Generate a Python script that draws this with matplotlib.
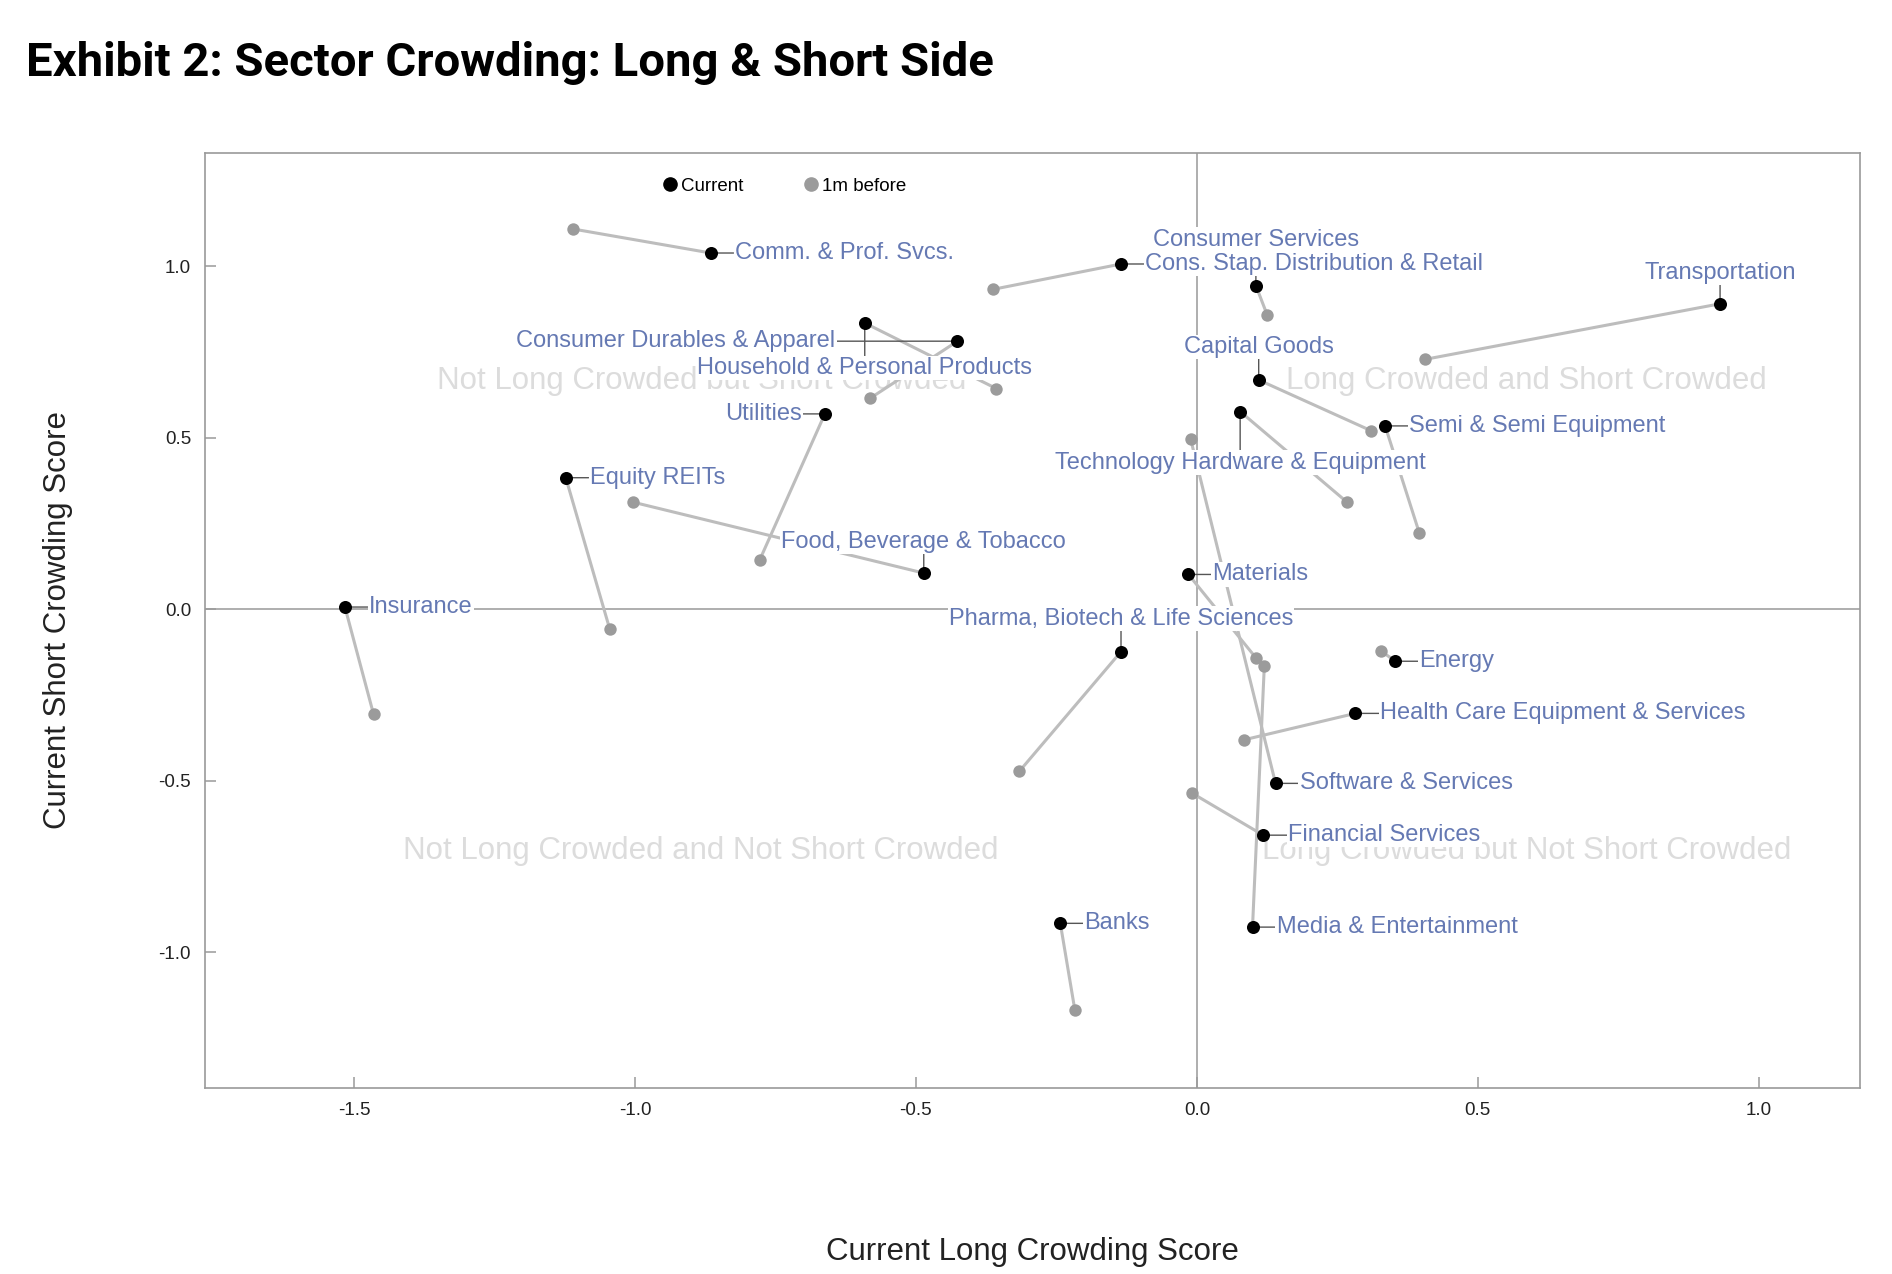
import matplotlib
matplotlib.use("Agg")
import matplotlib.pyplot as plt
from matplotlib.lines import Line2D

# ---------------- data ----------------
sectors = [
    "Comm. & Prof. Svcs.", "Consumer Services", "Cons. Stap. Distribution & Retail",
    "Transportation", "Consumer Durables & Apparel", "Household & Personal Products",
    "Utilities", "Equity REITs", "Food, Beverage & Tobacco", "Insurance",
    "Capital Goods", "Semi & Semi Equipment", "Technology Hardware & Equipment",
    "Materials", "Pharma, Biotech & Life Sciences", "Energy",
    "Health Care Equipment & Services", "Software & Services", "Financial Services",
    "Media & Entertainment", "Banks",
]
current_long = [-0.865, 0.105, -0.135, 0.931, -0.426, -0.591, -0.662, -1.123, -0.486, -1.516,
                0.110, 0.335, 0.077, -0.015, -0.135, 0.353, 0.282, 0.140, 0.118, 0.099, -0.243]
current_short = [1.039, 0.944, 1.007, 0.891, 0.782, 0.835, 0.570, 0.384, 0.106, 0.007,
                 0.669, 0.535, 0.577, 0.102, -0.123, -0.151, -0.303, -0.507, -0.658, -0.926, -0.915]
before_long = [-1.110, 0.125, -0.363, 0.406, -0.581, -0.357, -0.778, -1.045, -1.004, -1.465,
               0.310, 0.396, 0.267, 0.105, -0.316, 0.327, 0.084, -0.011, -0.009, 0.120, -0.217]
before_short = [1.109, 0.859, 0.933, 0.729, 0.616, 0.644, 0.144, -0.056, 0.313, -0.306,
                0.521, 0.222, 0.313, -0.141, -0.472, -0.120, -0.380, 0.496, -0.535, -0.165, -1.169]

x_ticks = [-1.5, -1.0, -0.5, 0.0, 0.5, 1.0]
y_ticks = [-1.0, -0.5, 0.0, 0.5, 1.0]
quadrant_texts = ["Not Long Crowded but Short Crowded", "Long Crowded and Short Crowded",
                  "Not Long Crowded and Not Short Crowded", "Long Crowded but Not Short Crowded"]

# ---------------- layout / style ----------------
# label placement: (dx, dy) in pixels, horizontal alignment
label_layout = [
    (24, 0, "left"), (0, 46, "center"), (24, 0, "left"), (0, 31, "center"),
    (-122, 0, "right"), (0, -45, "center"), (-23, 0, "right"), (24, 0, "left"),
    (0, 31, "center"), (24, 0, "left"), (0, 33, "center"), (24, 0, "left"),
    (0, -51, "center"), (24, 0, "left"), (0, 33, "center"), (24, 0, "left"),
    (25, 0, "left"), (24, 0, "left"), (25, 0, "left"), (24, 0, "left"), (24, 0, "left"),
]
quadrant_pos = [(-0.882, 0.665), (0.587, 0.665), (-0.882, -0.704), (0.587, -0.704)]

plt.rcParams["font.family"] = ["Liberation Sans", "DejaVu Sans"]

W, H, DPI = 1892, 1274, 100
fig = plt.figure(figsize=(W / DPI, H / DPI), dpi=DPI)
ax = fig.add_axes([205 / W, 1 - 1088 / H, (1860 - 205) / W, (1088 - 152.5) / H])

ax.set_xlim(-1.765, 1.18)
ax.set_ylim(-1.395, 1.332)

# zero reference lines
ax.axhline(0, color="#a8a8a8", lw=1.3, zorder=0.5)
ax.axvline(0, color="#a8a8a8", lw=1.3, zorder=0.5)

# quadrant captions
for (qx, qy), qt in zip(quadrant_pos, quadrant_texts):
    ax.text(qx, qy, qt, ha="center", va="center", fontsize=22.5, color="#dcdcdc", zorder=1)

# connecting segments
for i in range(len(sectors)):
    ax.plot([current_long[i], before_long[i]], [current_short[i], before_short[i]],
            color="#bdbdbd", lw=2.2, zorder=2, solid_capstyle="round")

# labels
for i, name in enumerate(sectors):
    dx, dy, ha = label_layout[i]
    ax.annotate(name, xy=(current_long[i], current_short[i]), xytext=(dx, dy),
                textcoords="offset pixels", ha=ha, va="center", fontsize=17,
                color="#6579b3", zorder=3,
                bbox=dict(boxstyle="square,pad=0.05", fc="white", ec="none"),
                arrowprops=dict(arrowstyle="-", color="#555555", lw=1.0,
                                shrinkA=0, shrinkB=0))

# points
ax.scatter(before_long, before_short, s=80, color="#9b9b9b", zorder=4, linewidths=0)
ax.scatter(current_long, current_short, s=88, color="black", zorder=5, linewidths=0)

# axes styling
for sp in ax.spines.values():
    sp.set_color("#9a9a9a")
    sp.set_linewidth(1.2)
ax.set_xticks(x_ticks)
ax.set_yticks(y_ticks)
ax.set_xticklabels([f"{t:.1f}" for t in x_ticks])
ax.set_yticklabels([f"{t:.1f}" for t in y_ticks])
ax.tick_params(direction="in", length=8, width=1.1, color="#9a9a9a",
               labelsize=13.5, labelcolor="#222222", pad=10)

ax.set_xlabel("Current Long Crowding Score", fontsize=22.5, color="#222222", va="center")
ax.xaxis.set_label_coords(0.5, -0.1753)
ax.set_ylabel("Current Short Crowding Score", fontsize=22.5, color="#222222", va="center")
ax.yaxis.set_label_coords(-0.0888, 0.5)

# legend
handles = [Line2D([], [], marker="o", ls="none", color="black", markersize=9.5),
           Line2D([], [], marker="o", ls="none", color="#9b9b9b", markersize=9.5)]
ax.legend(handles, ["Current", "1m before"], loc="center", bbox_to_anchor=(0.35, 0.964),
          ncol=2, frameon=False, fontsize=13.5, handletextpad=0.2, columnspacing=3.2,
          handlelength=0.8)

fig.text(26 / W, 1 - 63 / H, "Exhibit 2: Sector Crowding: Long & Short Side",
         fontsize=34, fontweight="bold", family=["Roboto", "DejaVu Sans"],
         ha="left", va="center", color="black")

fig.savefig("out.png", dpi=DPI, facecolor="white")
